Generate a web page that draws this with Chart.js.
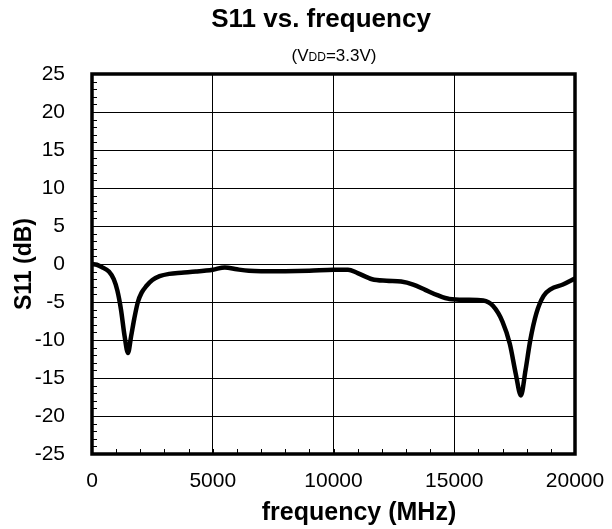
<!DOCTYPE html>
<html>
<head>
<meta charset="utf-8">
<script src="https://cdn.jsdelivr.net/npm/chart.js@4/dist/chart.umd.min.js"></script>
<style>
  html, body { margin: 0; padding: 0; background: #fff; }
  #wrap { width: 612px; height: 529px; position: relative; }
</style>
</head>
<body>
<div id="wrap"><canvas id="c" width="612" height="529"></canvas></div>
<script>
// Input reflection S11 sweep (VDD = 3.3 V)
const freqMHz = [0, 200, 400, 700, 900, 1050, 1200, 1350, 1490, 1620, 1750, 1900, 2050, 2250, 2500,
  2800, 3200, 3700, 4300, 5000, 5500, 6000, 6500, 7000, 8000, 9000, 10000, 10600, 11000, 11600,
  12200, 12800, 13300, 13800, 14300, 14800, 15500, 16200, 16600, 17000, 17300, 17550, 17760,
  17950, 18150, 18400, 18700, 19000, 19500, 20000];
const s11dB = [0, -0.1, -0.4, -1.0, -2.0, -3.5, -6.0, -9.5, -11.7, -9.5, -7.2, -5.0, -3.8, -2.9, -2.1,
  -1.6, -1.3, -1.15, -1.0, -0.75, -0.45, -0.7, -0.9, -0.95, -0.95, -0.9, -0.75, -0.75, -1.2, -2.0,
  -2.2, -2.3, -2.7, -3.4, -4.1, -4.6, -4.7, -4.8, -5.5, -7.6, -10.5, -14.5, -17.3,
  -14.0, -10.0, -6.5, -4.2, -3.3, -2.7, -1.9];

const xTickLabels = [0, 5000, 10000, 15000, 20000];
const yTickLabels = [25, 20, 15, 10, 5, 0, -5, -10, -15, -20, -25];

const FONT = "'Liberation Sans', Arial, sans-serif";

// Titles, plot frame and inward minor ticks
const decor = {
  id: 'decor',
  afterDatasetsDraw(chart) {
    const ctx = chart.ctx;
    const a = chart.chartArea;
    const xs = chart.scales.x, ys = chart.scales.y;
    ctx.save();
    ctx.strokeStyle = '#000';
    ctx.lineWidth = 1;
    ctx.beginPath();
    for (let v = xs.min; v <= xs.max; v += 1000) {
      const px = Math.round(xs.getPixelForValue(v)) + 0.5;
      ctx.moveTo(px, a.bottom);
      ctx.lineTo(px, a.bottom - 5);
    }
    for (let v = ys.min; v <= ys.max; v += 1) {
      const py = Math.round(ys.getPixelForValue(v)) + 0.5;
      ctx.moveTo(a.left, py);
      ctx.lineTo(a.left + 5, py);
    }
    ctx.stroke();
    ctx.lineWidth = 3.5;
    ctx.strokeRect(a.left, a.top, a.right - a.left, a.bottom - a.top);
    ctx.restore();
  },
  afterDraw(chart) {
    const ctx = chart.ctx;
    const a = chart.chartArea;
    ctx.save();
    ctx.fillStyle = '#000';
    ctx.textBaseline = 'alphabetic';
    ctx.textAlign = 'center';
    ctx.font = 'bold 26px ' + FONT;
    ctx.fillText('S11 vs. frequency', 321, 27);

    // subtitle with small-size "DD"
    const parts = [['(V', 17], ['DD', 12], ['=3.3V)', 17]];
    let total = 0;
    parts.forEach(p => { ctx.font = p[1] + 'px ' + FONT; total += ctx.measureText(p[0]).width; });
    let x = 334 - total / 2;
    ctx.textAlign = 'left';
    parts.forEach(p => {
      ctx.font = p[1] + 'px ' + FONT;
      ctx.fillText(p[0], x, 61);
      x += ctx.measureText(p[0]).width;
    });

    ctx.textAlign = 'center';
    ctx.font = 'bold 25px ' + FONT;
    ctx.fillText('frequency (MHz)', 359, 520);

    ctx.font = 'bold 23px ' + FONT;
    ctx.translate(31, (a.top + a.bottom) / 2);
    ctx.rotate(-Math.PI / 2);
    ctx.fillText('S11 (dB)', 0, 0);
    ctx.restore();
  }
};

new Chart(document.getElementById('c'), {
  type: 'scatter',
  data: {
    datasets: [{
      data: freqMHz.map((f, i) => ({ x: f, y: s11dB[i] })),
      showLine: true,
      borderColor: '#000',
      borderWidth: 4.5,
      pointRadius: 0,
      cubicInterpolationMode: 'monotone',
      fill: false
    }]
  },
  options: {
    responsive: false,
    animation: false,
    devicePixelRatio: 1,
    layout: { padding: { top: 74, right: 37, left: 0, bottom: 0 } },
    plugins: { legend: { display: false }, tooltip: { enabled: false }, title: { display: false } },
    scales: {
      x: {
        type: 'linear',
        min: 0, max: 20000,
        afterFit(s) { s.height = 75; s.paddingLeft = 0; s.paddingRight = 0; },
        afterBuildTicks(s) { s.ticks = xTickLabels.map(v => ({ value: v })); },
        ticks: { color: '#000', font: { family: FONT, size: 21 }, padding: 15, maxRotation: 0, autoSkip: false,
                 callback: v => String(v) },
        grid: { color: '#000', lineWidth: 1, drawTicks: false },
        border: { display: false }
      },
      y: {
        min: -25, max: 25,
        afterFit(s) { s.width = 92; s.paddingTop = 0; s.paddingBottom = 0; },
        afterBuildTicks(s) { s.ticks = yTickLabels.map(v => ({ value: v })); },
        ticks: { color: '#000', font: { family: FONT, size: 21 }, padding: 27, autoSkip: false,
                 callback: v => String(v) },
        grid: { color: '#000', lineWidth: 1, drawTicks: false },
        border: { display: false }
      }
    }
  },
  plugins: [decor]
});
</script>
</body>
</html>
